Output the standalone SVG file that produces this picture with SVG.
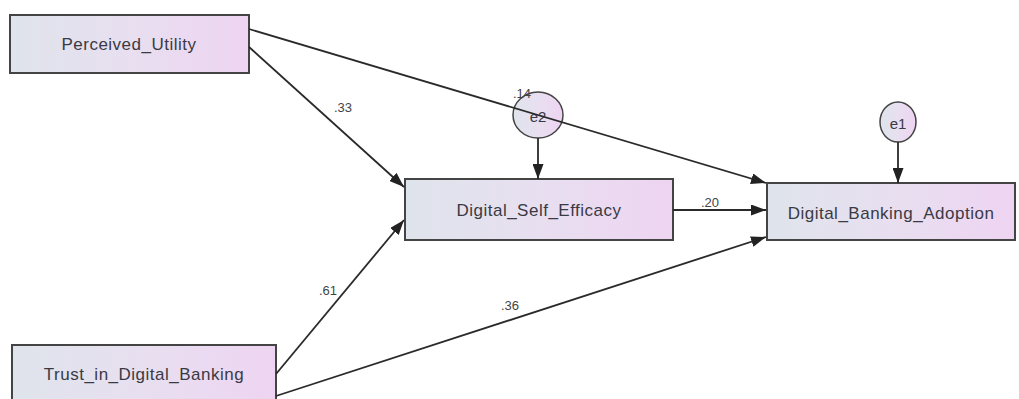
<svg xmlns="http://www.w3.org/2000/svg" width="1019" height="399" viewBox="0 0 1019 399">
<defs>
<linearGradient id="g" x1="0" y1="0" x2="1" y2="0">
<stop offset="0" stop-color="#dfe4ec"/>
<stop offset="0.5" stop-color="#e8dff0"/>
<stop offset="1" stop-color="#eed4f2"/>
</linearGradient>
<marker id="ah" viewBox="0 0 15 11" refX="15" refY="5.5" markerWidth="15" markerHeight="11" markerUnits="userSpaceOnUse" orient="auto">
<path d="M0,0 L15,5.5 L0,11 z" fill="#222"/>
</marker>
<style>
.box{fill:url(#g);stroke:#444;stroke-width:2}
.err{fill:url(#g);stroke:#444;stroke-width:1.5}
.lbl{font-family:"Liberation Sans",Arial,sans-serif;font-size:17px;letter-spacing:0.5px;fill:#3a3a44;text-anchor:middle;dominant-baseline:central}
.elbl{font-family:"Liberation Sans",Arial,sans-serif;font-size:15px;fill:#3a3a44;text-anchor:middle;dominant-baseline:central}
.coef{font-family:"Liberation Sans",Arial,sans-serif;font-size:13px;fill:#444;text-anchor:middle}
.edge{stroke:#2a2a2a;stroke-width:1.8;fill:none;marker-end:url(#ah)}
</style>
</defs>
<rect width="1019" height="399" fill="#fff"/>
<g id="Perceived_Utility">
<rect class="box" x="10" y="15" width="239" height="58"/>
<text class="lbl" x="129" y="44">Perceived_Utility</text>
</g>
<g id="Trust_in_Digital_Banking">
<rect class="box" x="12" y="345" width="264" height="60"/>
<text class="lbl" x="144" y="374">Trust_in_Digital_Banking</text>
</g>
<g id="Digital_Self_Efficacy">
<rect class="box" x="405" y="179" width="268" height="61"/>
<text class="lbl" x="539" y="210">Digital_Self_Efficacy</text>
</g>
<g id="Digital_Banking_Adoption">
<rect class="box" x="767" y="183" width="248" height="57"/>
<text class="lbl" x="891" y="213">Digital_Banking_Adoption</text>
</g>
<g id="e2">
<ellipse class="err" cx="538" cy="115" rx="25" ry="23"/>
<text class="elbl" x="538" y="116">e2</text>
</g>
<g id="e1">
<ellipse class="err" cx="898" cy="122" rx="18" ry="20"/>
<text class="elbl" x="898" y="123">e1</text>
</g>
<g id="connectors">
<line class="edge" x1="249" y1="29" x2="766" y2="183"/>
<line class="edge" x1="249" y1="47" x2="404" y2="187"/>
<line class="edge" x1="276" y1="374" x2="404" y2="220"/>
<line class="edge" x1="276" y1="396" x2="766" y2="237"/>
<line class="edge" x1="673" y1="210" x2="766" y2="210"/>
<line class="edge" x1="538" y1="138" x2="538" y2="179"/>
<line class="edge" x1="898" y1="142" x2="898" y2="183"/>
<text class="coef" x="343" y="112">.33</text>
<text class="coef" x="522" y="98">.14</text>
<text class="coef" x="710" y="207">.20</text>
<text class="coef" x="328" y="295">.61</text>
<text class="coef" x="510" y="310">.36</text>
</g>
</svg>
